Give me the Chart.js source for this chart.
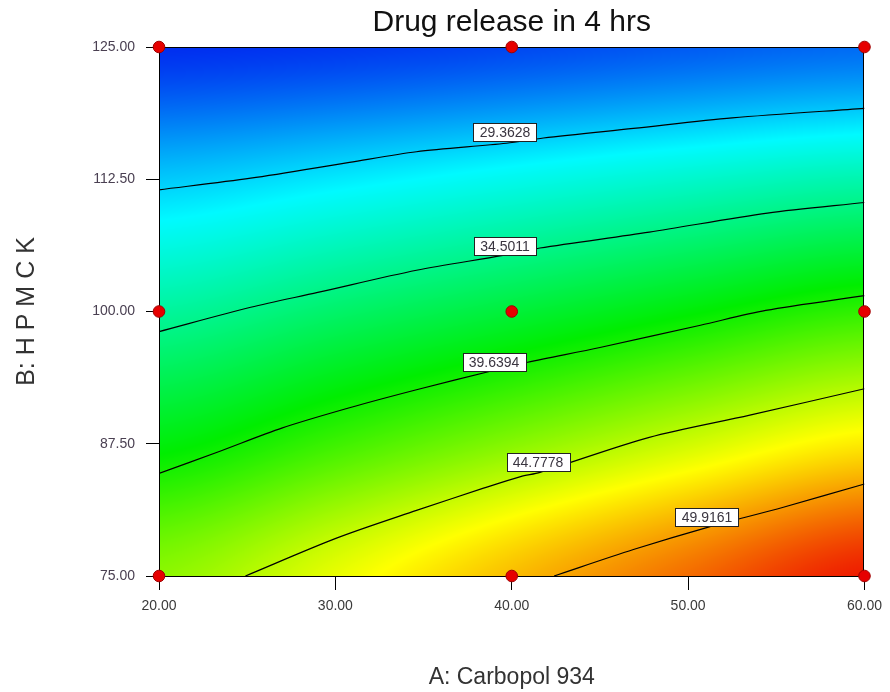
<!DOCTYPE html>
<html>
<head>
<meta charset="utf-8">
<title>Drug release in 4 hrs</title>
<script src="https://cdn.jsdelivr.net/npm/chart.js@4.4.1/dist/chart.umd.min.js"></script>
<style>
  html, body { margin: 0; padding: 0; background: #ffffff; }
  #wrap { width: 890px; height: 692px; }
</style>
</head>
<body>
<div id="wrap"><canvas id="chart" width="890" height="692"></canvas></div>
<script>
// Factor levels (axis ticks)
const carbopolTicks = [20, 30, 40, 50, 60];
const hpmcTicks = [75, 87.5, 100, 112.5, 125];

// Predicted release (%) on the factor grid; one row per HPMC level, columns follow carbopolTicks
const release75 = [43.4, 46.3, 49.3, 52.1, 54.9];
const release87 = [38.6, 40.9, 43.2, 45.5, 47.7];
const release100 = [33.8, 35.5, 37.1, 38.8, 40.5];
const release112 = [29.0, 30.0, 31.1, 32.2, 33.2];
const release125 = [24.2, 24.5, 25.0, 25.6, 26.1];

// Contour levels and their traced paths [Carbopol, HPMC]
const contourLevels = [29.3628, 34.5011, 39.6394, 44.7778, 49.9161];
const contour1 = [[20, 111.5], [25.2, 112.6], [30.8, 114.1], [34.6, 115.1], [39.7, 115.9], [41.8, 116.4], [46.9, 117.3], [52.5, 118.3], [60, 119.2]];
const contour2 = [[20, 98.1], [25.2, 100.4], [29.0, 101.8], [34.6, 103.9], [39.5, 105.3], [41.6, 106.0], [47.8, 107.5], [54.5, 109.3], [60, 110.3]];
const contour3 = [[20, 84.7], [23.3, 86.7], [27.0, 89.0], [30.8, 90.9], [34.6, 92.6], [38.9, 94.4], [40.9, 95.2], [45.0, 96.6], [50.7, 98.7], [54.4, 100.1], [60, 101.5]];
const contour4 = [[24.9, 75], [30.1, 78.6], [34.6, 81.2], [38.4, 83.3], [40.5, 84.4], [41.6, 84.8], [47.8, 88.1], [53.5, 90.2], [60, 92.7]];
const contour5 = [[42.4, 75], [46.9, 77.5], [51.1, 79.6], [55.4, 81.5], [60, 83.7]];
const contourLabelAt = [[39.6, 117.0], [39.6, 106.2], [39.0, 95.2], [41.5, 85.8], [51.05, 80.6]];

// Design points of the experiment
const designCarbopol = [20, 40, 60, 20, 40, 60, 20, 40, 60];
const designHpmc = [75, 75, 75, 100, 100, 100, 125, 125, 125];

// Colour ramp: blue -> cyan -> green -> yellow -> red
const colourStops = [
  [24.2, [0, 45, 240]],
  [30.5, [0, 250, 255]],
  [39.0, [0, 238, 0]],
  [47.0, [255, 255, 0]],
  [55.0, [238, 24, 0]]
];

const gridRows = [release75, release87, release100, release112, release125];

function catmull(p0, p1, p2, p3, t) {
  return 0.5 * ((2 * p1) + (-p0 + p2) * t + (2 * p0 - 5 * p1 + 4 * p2 - p3) * t * t +
    (-p0 + 3 * p1 - 3 * p2 + p3) * t * t * t);
}
function locate(ticks, v) {
  const step = ticks[1] - ticks[0];
  let f = (v - ticks[0]) / step;
  f = Math.max(0, Math.min(ticks.length - 1, f));
  let i = Math.min(ticks.length - 2, Math.floor(f));
  return [i, f - i];
}
function sampleRelease(a, b) {
  const [ci, ct] = locate(carbopolTicks, a);
  const [ri, rt] = locate(hpmcTicks, b);
  const clampR = k => Math.max(0, Math.min(gridRows.length - 1, k));
  const clampC = k => Math.max(0, Math.min(carbopolTicks.length - 1, k));
  const rowVals = [];
  for (let r = ri - 1; r <= ri + 2; r++) {
    const row = gridRows[clampR(r)];
    rowVals.push(catmull(row[clampC(ci - 1)], row[clampC(ci)], row[clampC(ci + 1)], row[clampC(ci + 2)], ct));
  }
  return catmull(rowVals[0], rowVals[1], rowVals[2], rowVals[3], rt);
}
function rampColour(v) {
  if (v <= colourStops[0][0]) return colourStops[0][1];
  for (let k = 1; k < colourStops.length; k++) {
    if (v <= colourStops[k][0]) {
      const [v0, c0] = colourStops[k - 1];
      const [v1, c1] = colourStops[k];
      const t = (v - v0) / (v1 - v0);
      return [0, 1, 2].map(j => c0[j] + (c1[j] - c0[j]) * t);
    }
  }
  return colourStops[colourStops.length - 1][1];
}

// Paints the response surface behind the contour lines and frames the plot area
const surfacePlugin = {
  id: 'surface',
  beforeDatasetsDraw(chart) {
    const { ctx, chartArea: area, scales } = chart;
    const w = Math.round(area.right - area.left);
    const h = Math.round(area.bottom - area.top);
    const off = document.createElement('canvas');
    off.width = w; off.height = h;
    const octx = off.getContext('2d');
    const img = octx.createImageData(w, h);
    for (let j = 0; j < h; j++) {
      const b = scales.y.getValueForPixel(area.top + j + 0.5);
      for (let i = 0; i < w; i++) {
        const a = scales.x.getValueForPixel(area.left + i + 0.5);
        const c = rampColour(sampleRelease(a, b));
        const p = (j * w + i) * 4;
        img.data[p] = c[0]; img.data[p + 1] = c[1]; img.data[p + 2] = c[2]; img.data[p + 3] = 255;
      }
    }
    octx.putImageData(img, 0, 0);
    ctx.save();
    ctx.drawImage(off, area.left, area.top);
    ctx.strokeStyle = '#000';
    ctx.lineWidth = 1;
    ctx.strokeRect(Math.round(area.left) + 0.5, Math.round(area.top) + 0.5, w - 1, h);
    ctx.restore();
  }
};

// Boxed level labels sitting on the contour lines
const levelLabelPlugin = {
  id: 'levelLabels',
  afterDatasetsDraw(chart) {
    const { ctx, scales } = chart;
    ctx.save();
    ctx.font = '14px "Liberation Sans", Arial, sans-serif';
    ctx.textAlign = 'center';
    ctx.textBaseline = 'middle';
    contourLevels.forEach((lvl, k) => {
      const txt = lvl.toFixed(4);
      const cx = scales.x.getPixelForValue(contourLabelAt[k][0]);
      const cy = scales.y.getPixelForValue(contourLabelAt[k][1]);
      const bw = Math.round(ctx.measureText(txt).width + 12);
      const bh = 18;
      const x0 = Math.round(cx - bw / 2) + 0.5, y0 = Math.round(cy - bh / 2) + 0.5;
      ctx.fillStyle = '#ffffff';
      ctx.fillRect(x0, y0, bw, bh);
      ctx.strokeStyle = '#222';
      ctx.lineWidth = 1;
      ctx.strokeRect(x0, y0, bw, bh);
      ctx.fillStyle = '#3a3540';
      ctx.fillText(txt, Math.round(cx), Math.round(cy) + 1);
    });
    ctx.restore();
  }
};

const toPoints = path => path.map(([a, b]) => ({ x: a, y: b }));
const contourSet = path => ({
  data: toPoints(path),
  showLine: true,
  borderColor: '#000',
  borderWidth: 1.2,
  pointRadius: 0,
  pointHoverRadius: 0,
  tension: 0.3,
  fill: false
});

new Chart(document.getElementById('chart'), {
  type: 'scatter',
  data: {
    datasets: [
      contourSet(contour1),
      contourSet(contour2),
      contourSet(contour3),
      contourSet(contour4),
      contourSet(contour5),
      {
        data: designCarbopol.map((a, k) => ({ x: a, y: designHpmc[k] })),
        pointRadius: 5.8,
        pointBackgroundColor: '#e60000',
        pointBorderColor: '#a00000',
        pointBorderWidth: 1,
        clip: false
      }
    ]
  },
  options: {
    responsive: false,
    animation: false,
    events: [],
    layout: { padding: { left: 0, right: 25, top: 0, bottom: 0 } },
    plugins: {
      legend: { display: false },
      tooltip: { enabled: false },
      title: {
        display: true,
        text: 'Drug release in 4 hrs',
        fullSize: false,
        color: '#111',
        font: { family: '"Liberation Sans", Arial, sans-serif', size: 30, weight: 'normal', lineHeight: 1.2 },
        padding: { top: 5, bottom: 6 }
      }
    },
    scales: {
      x: {
        type: 'linear',
        min: 20, max: 60,
        afterBuildTicks: s => { s.ticks = carbopolTicks.map(v => ({ value: v })); },
        afterFit: s => { s.height = 116; },
        ticks: {
          callback: v => Number(v).toFixed(2),
          color: '#3a3a3a',
          padding: 8,
          maxRotation: 0,
          font: { family: '"Liberation Sans", Arial, sans-serif', size: 14 }
        },
        grid: { drawOnChartArea: false, drawTicks: true, tickLength: 14, color: '#000' },
        border: { display: true, color: '#000' },
        title: {
          display: true,
          text: 'A: Carbopol 934',
          color: '#333',
          font: { family: '"Liberation Sans", Arial, sans-serif', size: 23 },
          padding: { top: 0, bottom: 1 }
        }
      },
      y: {
        type: 'linear',
        min: 75, max: 125,
        afterBuildTicks: s => { s.ticks = hpmcTicks.map(v => ({ value: v })); },
        afterFit: s => { s.width = 159; },
        ticks: {
          callback: v => Number(v).toFixed(2),
          color: '#4a4052',
          padding: 11,
          font: { family: '"Liberation Sans", Arial, sans-serif', size: 14 }
        },
        grid: { drawOnChartArea: false, drawTicks: true, tickLength: 13, color: '#000' },
        border: { display: true, color: '#000' },
        title: {
          display: true,
          text: 'B: H P M C K',
          color: '#333',
          font: { family: '"Liberation Sans", Arial, sans-serif', size: 25 },
          padding: { top: 12, bottom: 0 }
        }
      }
    }
  },
  plugins: [surfacePlugin, levelLabelPlugin]
});
</script>
</body>
</html>
